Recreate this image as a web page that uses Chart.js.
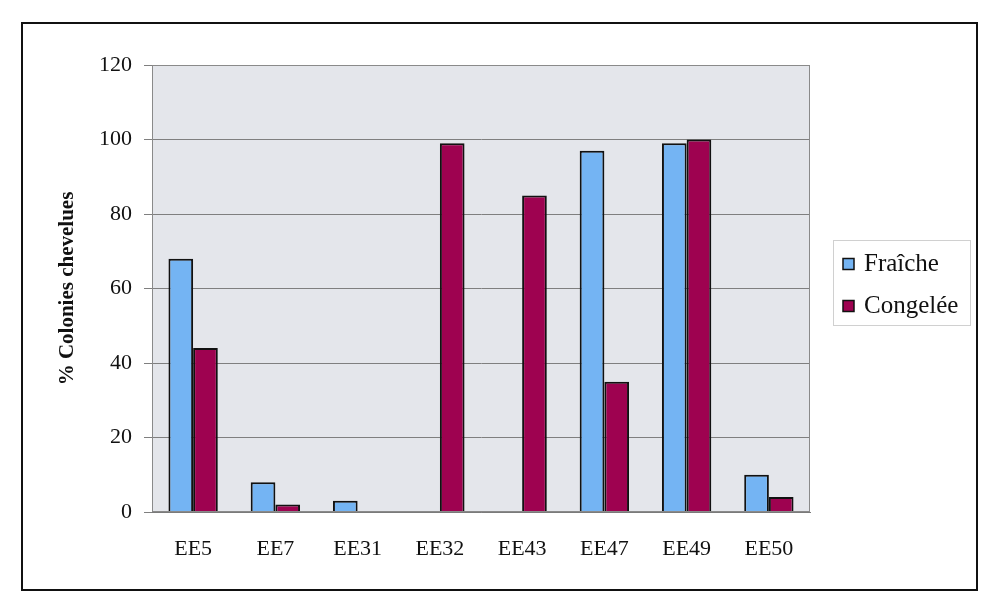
<!DOCTYPE html>
<html lang="fr">
<head>
<meta charset="utf-8">
<title>% Colonies chevelues</title>
<script src="https://cdn.jsdelivr.net/npm/chart.js@4/dist/chart.umd.min.js"></script>
<style>
  html, body { margin: 0; padding: 0; background: #ffffff; }
  #wrap { position: relative; width: 983px; height: 603px; }
  canvas { display: block; }
</style>
</head>
<body>
<div id="wrap"><canvas id="chart" width="983" height="603"></canvas></div>
<script>
// Strains on the x axis
const categories = ['EE5', 'EE7', 'EE31', 'EE32', 'EE43', 'EE47', 'EE49', 'EE50'];
// % hairy colonies, fresh vs frozen samples
const fraiche = [68, 8, 3, 0, 0, 97, 99, 10];
const congelee = [44, 2, 0, 99, 85, 35, 100, 4];
// Series names
const seriesNames = ['Fraîche', 'Congelée'];
// Y axis range
const yMin = 0, yMax = 120, yStep = 20;

const SERIF = "'Liberation Serif', 'Times New Roman', serif";
const BLUE = '#74b4f3';
const WINE = '#9e0250';

// Grey plot panel with a thin frame
const plotPanel = {
  id: 'plotPanel',
  beforeDraw(chart) {
    const { ctx, chartArea: a } = chart;
    ctx.save();
    ctx.fillStyle = '#e4e6eb';
    ctx.fillRect(a.left, a.top, a.right - a.left, a.bottom - a.top);
    ctx.restore();
  },
  afterDraw(chart) {
    const { ctx, chartArea: a } = chart;
    ctx.save();
    ctx.strokeStyle = '#8a8a8a';
    ctx.lineWidth = 1;
    ctx.strokeRect(a.left + 0.5, a.top + 0.5, a.right - a.left - 1, a.bottom - a.top - 1);
    ctx.restore();
  }
};

// Outer frame round the whole figure
const outerFrame = {
  id: 'outerFrame',
  afterDraw(chart) {
    const { ctx } = chart;
    ctx.save();
    ctx.strokeStyle = '#111111';
    ctx.lineWidth = 2;
    ctx.strokeRect(22, 23, 955, 567);
    ctx.restore();
  }
};

// Boxed legend on the right
const sideLegend = {
  id: 'sideLegend',
  afterDraw(chart) {
    const { ctx } = chart;
    ctx.save();
    ctx.strokeStyle = '#d0d0d0';
    ctx.lineWidth = 1;
    ctx.strokeRect(833.5, 240.5, 137, 85);
    ctx.font = '25px ' + SERIF;
    ctx.textBaseline = 'middle';
    ctx.textAlign = 'left';
    chart.data.datasets.forEach((ds, i) => {
      const cy = 264 + i * 42;
      ctx.fillStyle = ds.backgroundColor;
      ctx.fillRect(843, cy - 5.5, 11, 11);
      ctx.strokeStyle = '#111111';
      ctx.lineWidth = 1.5;
      ctx.strokeRect(843, cy - 5.5, 11, 11);
      ctx.fillStyle = '#111111';
      ctx.fillText(ds.label, 864, cy);
    });
    ctx.restore();
  }
};

new Chart(document.getElementById('chart'), {
  type: 'bar',
  data: {
    labels: categories,
    datasets: [
      { label: seriesNames[0], data: fraiche, backgroundColor: BLUE, borderColor: '#111111', borderWidth: 2 },
      { label: seriesNames[1], data: congelee, backgroundColor: WINE, borderColor: '#111111', borderWidth: 2 }
    ]
  },
  options: {
    responsive: false,
    animation: false,
    layout: { padding: { left: 55, top: 65, right: 173, bottom: 0 } },
    datasets: { bar: { categoryPercentage: 0.6, barPercentage: 1.0 } },
    plugins: {
      legend: { display: false },
      tooltip: { enabled: false }
    },
    scales: {
      x: {
        grid: { display: false, drawTicks: false },
        border: { display: true, color: '#7a7a7a', width: 1 },
        ticks: { color: '#111111', font: { family: SERIF, size: 22 }, padding: 24 },
        afterFit(scale) { scale.height = 603 - 512; }
      },
      y: {
        min: yMin,
        max: yMax,
        ticks: { stepSize: yStep, color: '#111111', font: { family: SERIF, size: 22 }, padding: 12 },
        grid: { color: '#7f7f7f', lineWidth: 1, drawTicks: true, tickLength: 8, tickColor: '#7f7f7f' },
        border: { display: true, color: '#7a7a7a', width: 1 },
        title: {
          display: true,
          text: '% Colonies chevelues',
          color: '#111111',
          font: { family: SERIF, size: 21, weight: 'bold' },
          padding: { top: 0, bottom: 0 }
        },
        afterFit(scale) { scale.width = 152 - 55; }
      }
    }
  },
  plugins: [plotPanel, outerFrame, sideLegend]
});
</script>
</body>
</html>
